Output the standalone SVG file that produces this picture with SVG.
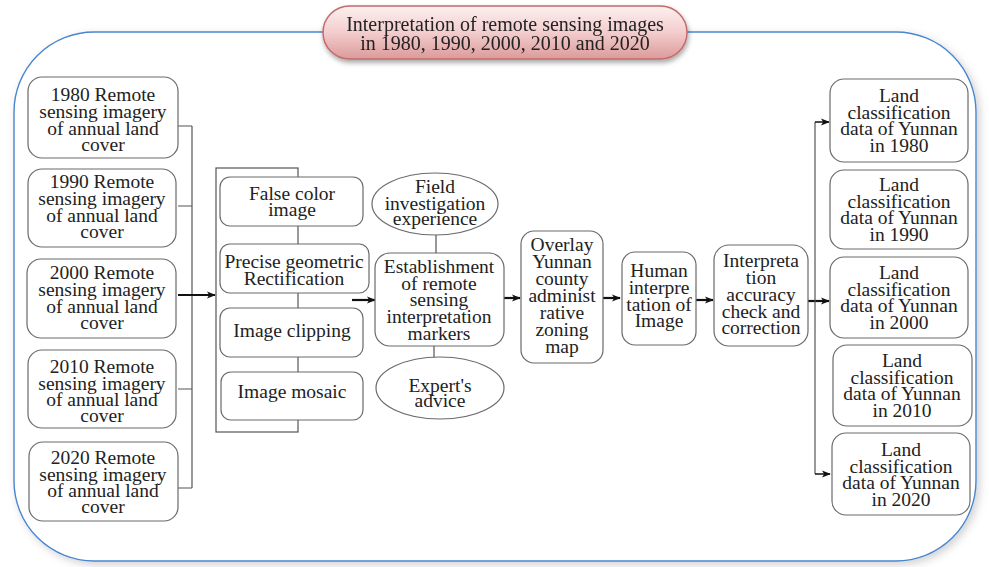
<svg xmlns="http://www.w3.org/2000/svg" width="989" height="567" viewBox="0 0 989 567">
<defs>
<linearGradient id="pill" x1="0" y1="0" x2="0" y2="1">
<stop offset="0" stop-color="#fdf0f0"/>
<stop offset="0.5" stop-color="#f3cdcd"/>
<stop offset="1" stop-color="#dc9a9a"/>
</linearGradient>
<filter id="sh" x="-10%" y="-10%" width="120%" height="130%">
<feDropShadow dx="1" dy="3" stdDeviation="2.5" flood-color="#000" flood-opacity="0.35"/>
</filter>
<filter id="csh" x="-5%" y="-5%" width="110%" height="110%">
<feDropShadow dx="3" dy="3" stdDeviation="4" flood-color="#000" flood-opacity="0.18"/>
</filter>
<marker id="ah" viewBox="0 0 10 10" refX="9" refY="5" markerWidth="5" markerHeight="5" orient="auto" markerUnits="userSpaceOnUse">
<path d="M0,0 L10,5 L0,10 L3,5 Z" fill="#111"/>
</marker>
<marker id="ah2" viewBox="0 0 10 10" refX="9" refY="5" markerWidth="9" markerHeight="9" orient="auto" markerUnits="userSpaceOnUse">
<path d="M0,1 L10,5 L0,9 L2.5,5 Z" fill="#111"/>
</marker>
</defs>
<style>
.box{fill:#fff;stroke:#6a6a6a;stroke-width:1.2}
.t{font-family:"Liberation Serif","Times New Roman",serif;font-size:19.5px;fill:#222;text-anchor:middle}
.tt{font-family:"Liberation Serif","Times New Roman",serif;font-size:20px;fill:#222;text-anchor:middle}
.ln{stroke:#555;stroke-width:1.2;fill:none}
.ar{stroke:#111;stroke-width:2.2;fill:none;marker-end:url(#ah2)}
.ar1{stroke:#111;stroke-width:1.5;fill:none;marker-end:url(#ah2)}
</style>
<rect width="989" height="567" fill="#fff"/>
<g id="container">
<rect x="14" y="32" width="962" height="529" rx="80" ry="80" fill="#fff" stroke="#4a86d0" stroke-width="1.4" filter="url(#csh)"/>
</g>
<g id="title" filter="url(#sh)">
<rect x="323" y="6" width="364" height="53" rx="26.5" ry="26.5" fill="url(#pill)" stroke="#c46a6a" stroke-width="1.5"/>
<text class="tt" x="505" y="31">Interpretation of remote sensing images</text>
<text class="tt" x="505" y="50">in 1980, 1990, 2000, 2010 and 2020</text>
</g>
<g id="connectors">
<path class="ln" d="M178,126 H192 M178,206 H192 M178,389 H192 M178,488 H192 M192,126 V488"/>
<path class="ar" d="M178,295 H215"/>
<rect class="ln" x="216" y="168" width="82" height="264"/>
<path class="ar" d="M352,300 H375"/>
<path class="ln" d="M436,234 V253 M434,346 V358"/>
<path class="ar" d="M504,298 H520"/>
<path class="ar" d="M603,298 H620"/>
<path class="ar" d="M696,300 H713"/>
<path class="ar" d="M808,301 H829"/>
<path class="ln" d="M815,122 V474"/>
<path class="ar1" d="M815,122 H829"/>
<path class="ar1" d="M815,474 H830"/>
</g>
<g id="n1980"><rect class="box" x="28" y="77" width="150" height="81" rx="14"/>
<text class="t" x="103" y="101">1980 Remote</text><text class="t" x="103" y="118">sensing imagery</text><text class="t" x="103" y="135">of annual land</text><text class="t" x="103" y="151">cover</text></g>
<g id="n1990"><rect class="box" x="28" y="169" width="148" height="78" rx="14"/>
<text class="t" x="102" y="188">1990 Remote</text><text class="t" x="102" y="205">sensing imagery</text><text class="t" x="102" y="222">of annual land</text><text class="t" x="102" y="238">cover</text></g>
<g id="n2000"><rect class="box" x="27" y="259" width="149" height="79" rx="14"/>
<text class="t" x="102" y="279">2000 Remote</text><text class="t" x="102" y="296">sensing imagery</text><text class="t" x="102" y="313">of annual land</text><text class="t" x="102" y="329">cover</text></g>
<g id="n2010"><rect class="box" x="28" y="350" width="148" height="78" rx="14"/>
<text class="t" x="102" y="373">2010 Remote</text><text class="t" x="102" y="390">sensing imagery</text><text class="t" x="102" y="406">of annual land</text><text class="t" x="102" y="422">cover</text></g>
<g id="n2020"><rect class="box" x="29" y="442" width="149" height="79" rx="14"/>
<text class="t" x="103" y="464">2020 Remote</text><text class="t" x="103" y="481">sensing imagery</text><text class="t" x="103" y="497">of annual land</text><text class="t" x="103" y="513">cover</text></g>
<g id="falsecolor"><rect class="box" x="220" y="177" width="143" height="49" rx="10"/>
<text class="t" x="292" y="200">False color</text><text class="t" x="292" y="216">image</text></g>
<g id="rectification"><rect class="box" x="220" y="244" width="149" height="49" rx="10"/>
<text class="t" x="294" y="268">Precise geometric</text><text class="t" x="294" y="285">Rectification</text></g>
<g id="clipping"><rect class="box" x="220" y="308" width="143" height="49" rx="10"/>
<text class="t" x="292" y="337">Image clipping</text></g>
<g id="mosaic"><rect class="box" x="221" y="372" width="142" height="48" rx="10"/>
<text class="t" x="292" y="398">Image mosaic</text></g>
<g id="field"><ellipse class="box" cx="435" cy="204" rx="63" ry="31"/>
<text class="t" x="435" y="193">Field</text><text class="t" x="435" y="210">investigation</text><text class="t" x="435" y="225">experience</text></g>
<g id="establish"><rect class="box" x="375" y="253" width="129" height="93" rx="15"/>
<text class="t" x="439" y="273">Establishment</text><text class="t" x="439" y="290">of remote</text><text class="t" x="439" y="306">sensing</text><text class="t" x="439" y="323">interpretation</text><text class="t" x="439" y="340">markers</text></g>
<g id="expert"><ellipse class="box" cx="440" cy="388" rx="64" ry="31"/>
<text class="t" x="440" y="392">Expert's</text><text class="t" x="440" y="407">advice</text></g>
<g id="overlay"><rect class="box" x="521" y="231" width="82" height="132" rx="13"/>
<text class="t" x="562" y="251">Overlay</text><text class="t" x="562" y="268">Yunnan</text><text class="t" x="562" y="285">county</text><text class="t" x="562" y="302">administ</text><text class="t" x="562" y="319">rative</text><text class="t" x="562" y="336">zoning</text><text class="t" x="562" y="353">map</text></g>
<g id="human"><rect class="box" x="622" y="252" width="74" height="93" rx="13"/>
<text class="t" x="659" y="277">Human</text><text class="t" x="659" y="294">interpre</text><text class="t" x="659" y="311">tation of</text><text class="t" x="659" y="327">Image</text></g>
<g id="check"><rect class="box" x="714" y="245" width="94" height="101" rx="15"/>
<text class="t" x="761" y="267">Interpreta</text><text class="t" x="761" y="284">tion</text><text class="t" x="761" y="301">accuracy</text><text class="t" x="761" y="318">check and</text><text class="t" x="761" y="334">correction</text></g>
<g id="r1980"><rect class="box" x="830" y="79" width="138" height="83" rx="14"/>
<text class="t" x="899" y="102">Land</text><text class="t" x="899" y="119">classification</text><text class="t" x="899" y="135">data of Yunnan</text><text class="t" x="899" y="152">in 1980</text></g>
<g id="r1990"><rect class="box" x="830" y="170" width="138" height="79" rx="14"/>
<text class="t" x="899" y="191">Land</text><text class="t" x="899" y="208">classification</text><text class="t" x="899" y="224">data of Yunnan</text><text class="t" x="899" y="241">in 1990</text></g>
<g id="r2000"><rect class="box" x="830" y="257" width="138" height="81" rx="14"/>
<text class="t" x="899" y="279">Land</text><text class="t" x="899" y="296">classification</text><text class="t" x="899" y="312">data of Yunnan</text><text class="t" x="899" y="329">in 2000</text></g>
<g id="r2010"><rect class="box" x="833" y="345" width="139" height="81" rx="14"/>
<text class="t" x="902" y="367">Land</text><text class="t" x="902" y="384">classification</text><text class="t" x="902" y="400">data of Yunnan</text><text class="t" x="902" y="417">in 2010</text></g>
<g id="r2020"><rect class="box" x="832" y="433" width="138" height="82" rx="14"/>
<text class="t" x="901" y="456">Land</text><text class="t" x="901" y="473">classification</text><text class="t" x="901" y="489">data of Yunnan</text><text class="t" x="901" y="506">in 2020</text></g>
</svg>
